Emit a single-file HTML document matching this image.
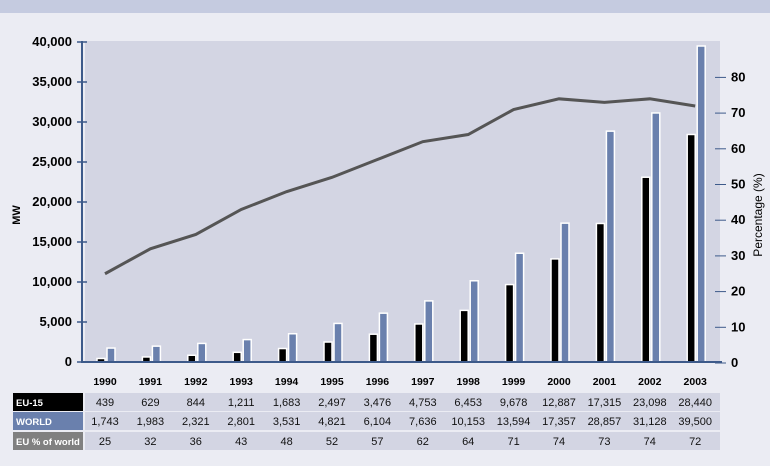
<!DOCTYPE html>
<html><head><meta charset="utf-8"><style>
body{margin:0;background:#ebecf3;font-family:"Liberation Sans",sans-serif}
svg{display:block}
</style></head><body>
<svg width="770" height="466" xmlns="http://www.w3.org/2000/svg">
<rect x="0" y="0" width="770" height="13" fill="#c5cbe0"/>
<rect x="85" y="41" width="635" height="321" fill="#d3d5e3"/>
<g id="bars"></g>
<g id="line"></g>
<g id="axes"></g>
<g id="table"></g>
<text x="20" y="215" transform="rotate(-90 20 215)" font-size="11" font-weight="bold" text-anchor="middle">MW</text>
<text x="762" y="215" transform="rotate(-90 762 215)" font-size="12" text-anchor="middle">Percentage (%)</text>
</svg>
<script>
const years=[1990,1991,1992,1993,1994,1995,1996,1997,1998,1999,2000,2001,2002,2003];
const eu=[439,629,844,1211,1683,2497,3476,4753,6453,9678,12887,17315,23098,28440];
const world=[1743,1983,2321,2801,3531,4821,6104,7636,10153,13594,17357,28857,31128,39500];
const pct=[25,32,36,43,48,52,57,62,64,71,74,73,74,72];
const leftTicks=[0,5000,10000,15000,20000,25000,30000,35000,40000];
const rightTicks=[0,10,20,30,40,50,60,70,80];
const NS="http://www.w3.org/2000/svg";
const xc=i=>105+i*45.4;
const yL=v=>362-v*320/40000;
const yR=v=>363-v*3.57;
const fmt=v=>v.toLocaleString('en-US');
function mk(tag,attrs,parent,txt){const e=document.createElementNS(NS,tag);for(const k in attrs)e.setAttribute(k,attrs[k]);if(txt!==undefined)e.textContent=txt;parent.appendChild(e);return e;}
const gb=document.getElementById('bars');
years.forEach((y,i)=>{
 const b=mk('rect',{x:xc(i)-8,y:yL(eu[i]),width:8,height:362-yL(eu[i]),fill:'#000',stroke:'#fff','stroke-width':1.5},gb);
 
 
 const w=mk('rect',{x:xc(i)+2,y:yL(world[i]),width:8,height:362-yL(world[i]),fill:'#6a80ad',stroke:'#fff','stroke-width':1.5},gb);
 
 
});
const gl=document.getElementById('line');
const pts=pct.map((v,i)=>xc(i)+','+yR(v)).join(' ');
const pl=mk('polyline',{points:pts,fill:'none',stroke:'#555','stroke-width':3},gl);


const ga=document.getElementById('axes');
let a=mk('line',{x1:82,y1:41,x2:82,y2:363,stroke:'#3d5a8a','stroke-width':2},ga);


a=mk('line',{x1:82,y1:362,x2:722,y2:362,stroke:'#3d5a8a','stroke-width':2},ga);


leftTicks.forEach(v=>{
 const t=mk('line',{x1:77,y1:yL(v),x2:87,y2:yL(v),stroke:'#3d5a8a','stroke-width':1.5},ga);
 
 
 const l=mk('text',{x:72,y:yL(v)+4,'font-size':13,'font-weight':'bold','text-anchor':'end'},ga,fmt(v));
 
 
});
rightTicks.forEach(v=>{
 const t=mk('line',{x1:715,y1:yR(v),x2:726,y2:yR(v),stroke:'#3d5a8a','stroke-width':1},ga);
 
 
 const l=mk('text',{x:731,y:yR(v)+4,'font-size':13,'font-weight':'bold'},ga,String(v));
 
 
});
const gt=document.getElementById('table');
years.forEach((y,i)=>{
 const l=mk('text',{x:xc(i),y:385,'font-size':10.5,'font-weight':'bold','text-anchor':'middle'},gt,String(y));
 
 
});
const rows=[['EU-15','#000',eu,393],['WORLD','#6a80ad',world,412],['EU % of world','#808080',pct,432]];
rows.forEach(r=>{
 const bg=mk('rect',{x:85,y:r[3],width:635,height:18,fill:'#d3d5e3'},gt);
 
 
 const lc=mk('rect',{x:13,y:r[3],width:70,height:18,fill:r[1]},gt);
 
 
 const lt=mk('text',{x:16,y:r[3]+13,'font-size':9.5,'font-weight':'bold',fill:'#fff'},gt,r[0]);
 
 
 r[2].forEach((v,i)=>{
  const c=mk('text',{x:xc(i),y:r[3]+13,'font-size':11,'text-anchor':'middle',fill:'#111'},gt,fmt(v));
  
  
 });
});
</script>
</body></html>
